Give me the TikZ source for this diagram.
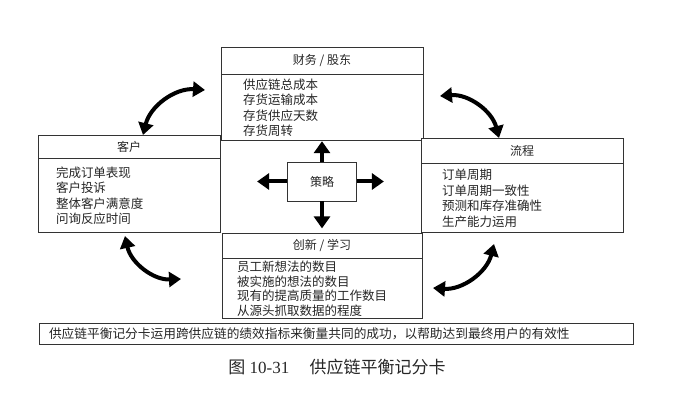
\documentclass[tikz,border=0pt]{standalone}
\usepackage{fontspec}
\setmainfont{Liberation Serif}
\newfontfamily\cjk{Noto Sans CJK SC}
\usepackage{tikz}
\usetikzlibrary{arrows.meta, positioning}
\usepackage{xcolor}

\begin{document}
\begin{tikzpicture}[x=1pt, y=1pt,
  head/.style={rectangle, draw=black!80, fill=white, line width=0.8pt,
               inner sep=0pt, text=black!85, font=\cjk\fontsize{12}{14}\selectfont},
  body/.style={rectangle, draw=black!80, fill=white, line width=0.8pt,
               align=left, inner ysep=0pt, text=black!85,
               font=\cjk\fontsize{12.5}{15.5}\selectfont},
  bigarr/.style={-{Triangle[width=16pt,length=12pt]}, line width=4pt},
  curvarr/.style={{Triangle[width=15pt,length=12pt]}-{Triangle[width=15pt,length=12pt]},
                  line width=4pt}
]
\useasboundingbox (0,0) rectangle (683,-406);
% the four perspectives
\node[head, minimum width=202pt, minimum height=27pt] (fin) at (322,-60.5) {财务 / 股东};
\node[body, below=0pt of fin, minimum height=66pt, inner xsep=22pt, text width=158pt] (finb)
  {供应链总成本\\存货运输成本\\存货供应天数\\存货周转};
\node[head, minimum width=182pt, minimum height=23pt] (cus) at (129,-146.5) {客户};
\node[body, below=0pt of cus, minimum height=74pt, inner xsep=18pt, text width=146pt] (cusb)
  {完成订单表现\\客户投诉\\整体客户满意度\\问询反应时间};
\node[head, minimum width=202pt, minimum height=25pt] (pro) at (522,-150.5) {流程};
\node[body, below=0pt of pro, minimum height=69pt, inner xsep=21pt, text width=160pt] (prob)
  {订单周期\\订单周期一致性\\预测和库存准确性\\生产能力运用};
\node[head, minimum width=200pt, minimum height=25pt] (inn) at (322,-245.5) {创新 / 学习};
\node[body, below=0pt of inn, minimum height=60pt, inner xsep=15pt, text width=170pt,
      font=\cjk\fontsize{12.5}{14.5}\selectfont] (innb)
  {员工新想法的数目\\被实施的想法的数目\\现有的提高质量的工作数目\\从源头抓取数据的程度};
% strategy in the middle
\node[head, minimum width=69pt, minimum height=39pt] (strat) at (322,-181.5) {策略};
\coordinate[below=27pt of strat] (sd);
\coordinate[left=30pt of strat] (sl);
\coordinate[right=27pt of strat] (sr);
\draw[bigarr] (strat.north) -- (finb.south);
\draw[bigarr] (strat.south) -- (sd);
\draw[bigarr] (strat.west) -- (sl);
\draw[bigarr] (strat.east) -- (sr);
% curved links between the boxes
\coordinate (tl1) at (143,-135);  \coordinate (tl2) at (205,-90);
\coordinate (tr1) at (440,-96);   \coordinate (tr2) at (499,-138);
\coordinate (bl1) at (125,-236);  \coordinate (bl2) at (181,-279);
\coordinate (br1) at (433,-288);  \coordinate (br2) at (494,-244);
\draw[curvarr] (tl1) to[bend left=40] (tl2);
\draw[curvarr] (tr1) to[bend left=40] (tr2);
\draw[curvarr] (bl1) to[bend right=40] (bl2);
\draw[curvarr] (br1) to[bend right=40] (br2);
% statement and caption
\node[body, minimum height=21pt, inner xsep=10pt, text width=574pt,
      font=\cjk\fontsize{12.7}{14}\selectfont] (note) at (336,-333.5)
  {供应链平衡记分卡运用跨供应链的绩效指标来衡量共同的成功，以帮助达到最终用户的有效性};
\node[text=black!85, font=\fontsize{17}{19}\selectfont] (cap) at (337,-367)
  {{\cjk 图} 10-31\hspace{1.2em}{\cjk 供应链平衡记分卡}};
\end{tikzpicture}
\end{document}
